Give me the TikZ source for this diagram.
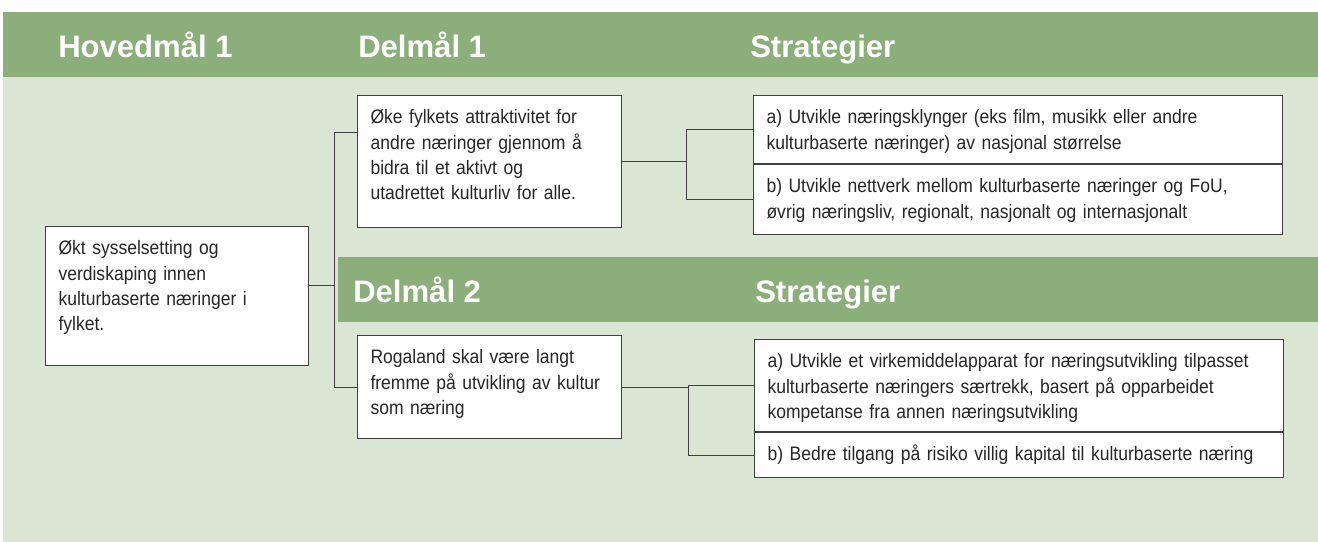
\documentclass[tikz,border=0pt]{standalone}
\usepackage{fontspec}
\setmainfont{Liberation Sans}
\newfontfamily\bodyfont[FakeStretch=0.9]{Liberation Sans}
\usepackage{tikz}
\usepackage{xcolor}

\definecolor{bandgreen}{RGB}{139,174,122}
\definecolor{panelgreen}{RGB}{219,229,212}
\definecolor{linegray}{RGB}{64,64,64}

\begin{document}
\begin{tikzpicture}[
        x=0.75pt, y=-0.75pt,
        title/.style={anchor=base west, text=white, inner sep=0pt,
            font=\fontsize{23.3pt}{28pt}\selectfont\bfseries},
        goalbox/.style={draw=linegray, fill=white, line width=0.8pt,
            anchor=north west, inner xsep=9.75pt, inner ysep=0pt,
            align=left, text height=21pt, text=black!85,
            font=\bodyfont\fontsize{14.6pt}{19.1pt}\selectfont},
        narrowbox/.style={goalbox, text width=178.5pt},
        widebox/.style={goalbox, text width=377.25pt},
        link/.style={draw=linegray, line width=0.8pt}
    ]
        \useasboundingbox (0,0) rectangle (1318,542);

        % panel and header bands
        \fill[panelgreen] (3,77) rectangle (1318,542);
        \fill[bandgreen] (3,12) rectangle (1318,77);
        \fill[bandgreen] (338,257) rectangle (1318,322);

        \node[title] (hovedTitle) at (58,58) {Hovedmål 1};
        \node[title] (del1Title) at (358,58) {Delmål 1};
        \node[title] (strat1Title) at (750,58) {Strategier};
        \node[title] (del2Title) at (353,302) {Delmål 2};
        \node[title] (strat2Title) at (755,302) {Strategier};

        % goals
        \node[narrowbox, text width=177.75pt, text depth=83.25pt] (hoved) at (45,226)
            {Økt sysselsetting og\\verdiskaping innen\\kulturbaserte næringer i\\fylket.};
        \node[narrowbox, text depth=78pt] (del1) at (357,95)
            {Øke fylkets attraktivitet for\\andre næringer gjennom å\\bidra til et aktivt og\\utadrettet kulturliv for alle.};
        \node[narrowbox, text depth=56.25pt] (del2) at (357,335)
            {Rogaland skal være langt\\fremme på utvikling av kultur\\som næring};

        % strategies
        \node[widebox, text depth=30pt] (strat1a) at (753,95)
            {a) Utvikle næringsklynger (eks film, musikk eller andre\\kulturbaserte næringer) av nasjonal størrelse};
        \node[widebox, text depth=31.5pt] (strat1b) at (strat1a.south west)
            {b) Utvikle nettverk mellom kulturbaserte næringer og FoU,\\øvrig næringsliv, regionalt, nasjonalt og internasjonalt};
        \node[widebox, text depth=48pt] (strat2a) at (754,339)
            {a) Utvikle et virkemiddelapparat for næringsutvikling tilpasset\\kulturbaserte næringers særtrekk, basert på opparbeidet\\kompetanse fra annen næringsutvikling};
        \node[widebox, text depth=12.75pt] (strat2b) at (strat2a.south west)
            {b) Bedre tilgang på risiko villig kapital til kulturbaserte næring};

        % connectors
        \draw[link] ([yshift=7.9pt]hoved.east) -- ++(25,0) coordinate (spine);
        \draw[link] ([yshift=21.75pt]del1.west) -| (spine) |- (del2.west);

        \draw[link] (del1.east) -- ++(64,0) coordinate (fork1);
        \draw[link] (strat1a.west) -| (fork1) |- (strat1b.west);

        \draw[link] (del2.east) -- ++(66,0) coordinate (fork2);
        \draw[link] (strat2a.west) -| (fork2) |- (strat2b.west);
    \end{tikzpicture}
\end{document}
